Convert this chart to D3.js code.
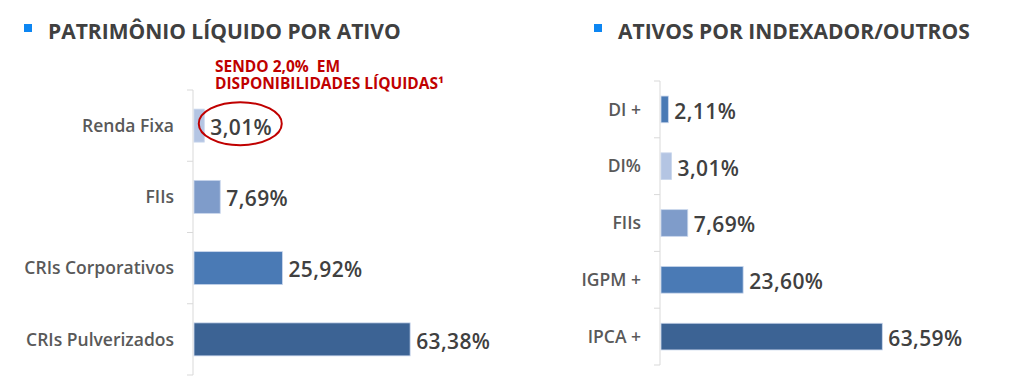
<!DOCTYPE html>
<html>
<head>
<meta charset="utf-8">
<script src="https://cdn.jsdelivr.net/npm/d3@7"></script>
<style>
  body { margin: 0; background: #fff; }
  svg { display: block; font-family: "Open Sans", Lato, sans-serif; }
</style>
</head>
<body>
<svg id="chart" width="1024" height="381"></svg>
<script>
// dados - patrimonio liquido por ativo
var plCategorias = ['Renda Fixa', 'FIIs', 'CRIs Corporativos', 'CRIs Pulverizados'];
var plValores = [3.01, 7.69, 25.92, 63.38];
var plCores = ['#b4c5e3', '#7f9cca', '#4a7ab5', '#3c6394'];

// dados - ativos por indexador
var idxCategorias = ['DI +', 'DI%', 'FIIs', 'IGPM +', 'IPCA +'];
var idxValores = [2.11, 3.01, 7.69, 23.60, 63.59];
var idxCores = ['#4a7ab5', '#b4c5e3', '#7f9cca', '#4a7ab5', '#3c6394'];

var svg = d3.select('#chart');

function fmt(v) {
    return v.toFixed(2).replace('.', ',') + '%';
}

function titulo(x, texto) {
    svg.append('rect')
        .attr('x', x).attr('y', 24)
        .attr('width', 8).attr('height', 8)
        .attr('fill', '#0d86f2');
    svg.append('text')
        .attr('x', x + 24).attr('y', 39)
        .attr('font-size', '21px')
        .attr('font-weight', 700)
        .attr('fill', '#404040')
        .text(texto);
}

function barras(props, cats, vals, cores) {
    var g = svg.append('g');

    var y = d3.scaleBand()
        .domain(cats)
        .range([props.top, props.bottom])
        .paddingInner(props.pad)
        .paddingOuter(props.pad / 2);

    var x = d3.scaleLinear()
        .domain([0, 100])
        .range([props.left, props.left + props.pxPorCem]);

    // eixo com ticks entre categorias
    g.append('g')
        .attr('transform', 'translate(' + props.left + ',0)')
        .call(d3.axisLeft(y).tickSize(0).tickFormat(''))
        .call(function(a) { a.select('.domain').attr('stroke', '#d9d9d9').attr('d', 'M-6,' + props.top + 'H0V' + props.bottom + 'H-6'); });

    var step = y.step();
    g.selectAll('.sep')
        .data(cats.slice(1))
        .enter()
        .append('line')
        .attr('x1', props.left - 6).attr('x2', props.left)
        .attr('y1', function(d) { return y(d) - step * props.pad / 2; })
        .attr('y2', function(d) { return y(d) - step * props.pad / 2; })
        .attr('stroke', '#d9d9d9');

    g.selectAll('.bar')
        .data(vals)
        .enter()
        .append('rect')
        .attr('x', x(0) + 1)
        .attr('y', function(d, i) { return y(cats[i]); })
        .attr('width', function(d) { return x(d) - x(0); })
        .attr('height', y.bandwidth())
        .attr('fill', function(d, i) { return cores[i]; })
        .attr('stroke', '#c9d6ec')
        .attr('stroke-width', 0.8);

    g.selectAll('.cat')
        .data(cats)
        .enter()
        .append('text')
        .attr('x', props.left - 19)
        .attr('y', function(d) { return y(d) + y.bandwidth() / 2; })
        .attr('dy', '0.35em')
        .attr('text-anchor', 'end')
        .attr('font-size', '17.5px')
        .attr('font-weight', 600)
        .attr('fill', '#595959')
        .text(function(d) { return d; });

    g.selectAll('.val')
        .data(vals)
        .enter()
        .append('text')
        .attr('x', function(d) { return x(d) + 7; })
        .attr('y', function(d, i) { return y(cats[i]) + y.bandwidth() / 2 + 2; })
        .attr('dy', '0.35em')
        .attr('font-size', '21px')
        .attr('font-weight', 600)
        .attr('letter-spacing', '0.4px')
        .attr('fill', '#404040')
        .text(function(d) { return fmt(d); });

    return {x: x, y: y};
}

titulo(24, 'PATRIMÔNIO LÍQUIDO POR ATIVO');
titulo(594, 'ATIVOS POR INDEXADOR/OUTROS');

var esq = barras({top: 90, bottom: 375, left: 193, pad: 0.537, pxPorCem: 341}, plCategorias, plValores, plCores);
barras({top: 81, bottom: 365, left: 660, pad: 0.53, pxPorCem: 348}, idxCategorias, idxValores, idxCores);

// anotacao em vermelho
svg.append('text')
    .attr('x', 215).attr('y', 72)
    .attr('xml:space', 'preserve')
    .attr('font-size', '15.5px')
    .attr('font-weight', 700)
    .attr('fill', '#c00000')
    .text('SENDO 2,0%  EM');
svg.append('text')
    .attr('x', 215).attr('y', 89)
    .attr('font-size', '15.5px')
    .attr('font-weight', 700)
    .attr('fill', '#c00000')
    .text('DISPONIBILIDADES LÍQUIDAS¹');

var rf = esq.y('Renda Fixa') + esq.y.bandwidth() / 2;
svg.append('ellipse')
    .attr('cx', esq.x(plValores[0]) + 37)
    .attr('cy', rf - 2)
    .attr('rx', 41.5)
    .attr('ry', 21.5)
    .attr('fill', 'none')
    .attr('stroke', '#c00000')
    .attr('stroke-width', 2);
</script>
</body>
</html>
